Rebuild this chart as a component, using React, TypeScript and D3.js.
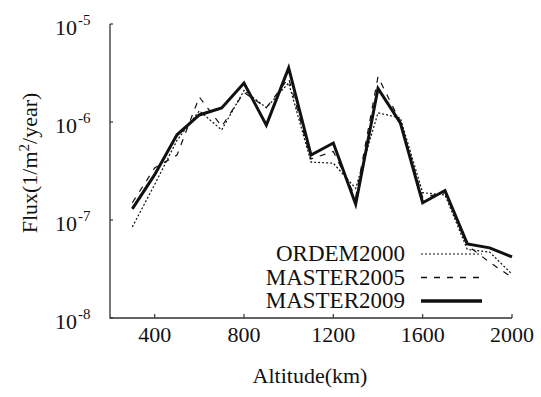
import React from 'react';
import * as d3 from 'd3';

const altitudes = [300, 400, 500, 600, 700, 800, 900, 1000, 1100, 1200, 1300, 1400, 1500, 1600, 1700, 1800, 1900, 2000];
const ordem2000 = [8.5e-8, 2.3e-7, 6.5e-7, 1.3e-6, 8.3e-7, 2.1e-6, 1.4e-6, 2.5e-6, 3.9e-7, 3.8e-7, 2.1e-7, 1.24e-6, 1.1e-6, 1.9e-7, 1.8e-7, 5.0e-8, 4.7e-8, 2.8e-8];
const master2005 = [1.5e-7, 3.4e-7, 4.6e-7, 1.8e-6, 9.0e-7, 2.0e-6, 1.4e-6, 2.8e-6, 4.2e-7, 5.0e-7, 1.7e-7, 2.9e-6, 1.0e-6, 1.7e-7, 1.9e-7, 5.5e-8, 3.7e-8, 2.6e-8];
const master2009 = [1.3e-7, 2.9e-7, 7.4e-7, 1.18e-6, 1.39e-6, 2.5e-6, 9.3e-7, 3.56e-6, 4.6e-7, 6.1e-7, 1.45e-7, 2.2e-6, 9.8e-7, 1.5e-7, 2.0e-7, 5.7e-8, 5.2e-8, 4.2e-8];
const xTicks = [400, 800, 1200, 1600, 2000];
const yExponents = [-5, -6, -7, -8];

const series = [
  { name: 'ORDEM2000', values: ordem2000, width: 1.2, legendWidth: 1.2, dash: '2,2' },
  { name: 'MASTER2005', values: master2005, width: 1.2, legendWidth: 1.3, dash: '6,7' },
  { name: 'MASTER2009', values: master2009, width: 3, legendWidth: 3.6, dash: undefined as string | undefined },
];

const font = 'Liberation Serif';
const ink = '#111';

export default function App() {
  const x = d3.scaleLinear().domain([200, 2000]).range([110, 512]);
  const y = d3.scaleLog().domain([1e-8, 1e-5]).range([318, 24]);
  const line = d3.line<number>().x((_, i) => x(altitudes[i])).y((d) => y(d));

  return (
    <svg width={541} height={397} style={{ position: 'absolute', left: 0, top: 0, background: '#fff', fontFamily: font }}>
      <g fill={ink}>
        {/* axes */}
        <path d={`M${x(200)},${y(1e-5)}V${y(1e-8)}H${x(2000)}`} fill="none" stroke="#333" strokeWidth={1.3} />
        {yExponents.map((e) => (
          <g key={e}>
            <line x1={x(200)} x2={x(200) + 3} y1={y(10 ** e)} y2={y(10 ** e)} stroke="#333" strokeWidth={1.2} />
            <text x={77} y={y(10 ** e) + 11} fontSize={22} textAnchor="end">10</text>
            <text x={78} y={y(10 ** e) + 1} fontSize={15}>{e}</text>
          </g>
        ))}
        {xTicks.map((t) => (
          <g key={t}>
            <line x1={x(t)} x2={x(t)} y1={y(1e-8)} y2={y(1e-8) - 4} stroke="#333" strokeWidth={1.2} />
            <text x={x(t)} y={342} fontSize={22} textAnchor="middle">{t}</text>
          </g>
        ))}
        <text x={310} y={383} fontSize={22} textAnchor="middle">Altitude(km)</text>
        <text transform="translate(37,163) rotate(-90)" fontSize={22} textAnchor="middle">
          Flux(1/m<tspan dy={-8} fontSize={15}>2</tspan><tspan dy={8}>/year)</tspan>
        </text>

        {/* series */}
        {series.map((s) => (
          <path key={s.name} d={line(s.values) ?? ''} fill="none" stroke={ink} strokeWidth={s.width}
            strokeDasharray={s.dash} strokeLinejoin="miter" />
        ))}

        {/* legend */}
        {series.map((s, i) => {
          const ly = 261 + i * 23.5;
          return (
            <g key={s.name}>
              <text x={405} y={ly} fontSize={23} textAnchor="end">{s.name}</text>
              <line x1={421} x2={482} y1={ly - 7} y2={ly - 7} stroke={ink} strokeWidth={s.legendWidth} strokeDasharray={s.dash} />
            </g>
          );
        })}
      </g>
    </svg>
  );
}
